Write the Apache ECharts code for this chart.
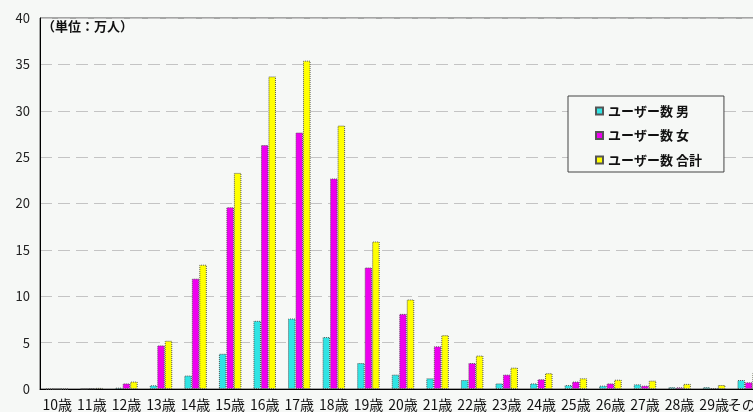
<!DOCTYPE html>
<html><head><meta charset="utf-8">
<script src="https://cdn.jsdelivr.net/npm/echarts@6/dist/echarts.min.js"></script>
<style>html,body{margin:0;padding:0;background:#f6f8f6;}#c{width:753px;height:412px;}</style>
</head><body><div id="c"></div>
<script>
const categories = ['10歳','11歳','12歳','13歳','14歳','15歳','16歳','17歳','18歳','19歳','20歳','21歳','22歳','23歳','24歳','25歳','26歳','27歳','28歳','29歳','その他'];
const seriesNames = ['ユーザー数 男','ユーザー数 女','ユーザー数 合計'];
const male   = [0, 0.03, 0.14, 0.4, 1.45, 3.8, 7.35, 7.6, 5.6, 2.8, 1.55, 1.15, 0.97, 0.6, 0.6, 0.42, 0.36, 0.5, 0.2, 0.2, 0.97];
const female = [0, 0.07, 0.6, 4.7, 11.9, 19.6, 26.3, 27.65, 22.7, 13.1, 8.1, 4.6, 2.8, 1.55, 1.05, 0.8, 0.6, 0.36, 0.18, 0.1, 0.72];
const total  = [0, 0.12, 0.8, 5.2, 13.4, 23.3, 33.7, 35.4, 28.4, 15.9, 9.65, 5.8, 3.6, 2.3, 1.7, 1.15, 1.0, 0.9, 0.55, 0.43, 1.75];
const unitLabel = '（単位：万人）';

const FONT = '"Noto Sans CJK JP", sans-serif';
const colors = ['#30e4e4', '#ee00ee', '#ffff00'];
const chart = echarts.init(document.getElementById('c'));
function bar(name, data, color) {
  return {
    name, type: 'bar', data, barWidth: 7.5, barGap: '0%',
    itemStyle: { color, borderColor: '#555', borderWidth: 1, borderType: 'dotted' },
    emphasis: { disabled: true }
  };
}
chart.setOption({
  animation: false,
  backgroundColor: '#f6f8f6',
  textStyle: { fontFamily: FONT },
  title: {
    text: unitLabel, left: 42, top: 20, padding: 0,
    textStyle: { fontFamily: FONT, fontSize: 13, fontWeight: 'bold', color: '#111' }
  },
  legend: {
    orient: 'vertical', left: 568, top: 96,
    itemWidth: 7, itemHeight: 7, itemGap: 10.5, icon: 'rect',
    padding: [8, 22, 5, 27],
    borderColor: '#444', borderWidth: 1, backgroundColor: '#f6f8f6',
    textStyle: { fontFamily: FONT, fontSize: 13, fontWeight: 'bold', color: '#111', lineHeight: 14 },
    data: seriesNames
  },
  grid: { left: 40, top: 18, bottom: 23, width: 726, containLabel: false, outerBoundsMode: 'none',
          show: true, borderColor: '#555', borderWidth: 1, backgroundColor: '#f6f8f6' },
  xAxis: {
    type: 'category', data: categories,
    axisLine: { lineStyle: { color: '#000', width: 1 } },
    axisTick: { inside: true, length: 4, lineStyle: { color: '#000' } },
    axisLabel: { interval: 0, fontSize: 14, color: '#111', margin: 9, fontFamily: FONT, hideOverlap: false }
  },
  yAxis: {
    type: 'value', min: 0, max: 40, interval: 5,
    axisLine: { show: true, lineStyle: { color: '#000', width: 1 } },
    axisTick: { show: false },
    axisLabel: { fontSize: 13, color: '#222', margin: 10, fontFamily: FONT },
    splitLine: { lineStyle: { color: '#c4c4c4', type: [12, 6], width: 1 } }
  },
  series: [
    bar(seriesNames[0], male, colors[0]),
    bar(seriesNames[1], female, colors[1]),
    bar(seriesNames[2], total, colors[2])
  ]
});
</script></body></html>
